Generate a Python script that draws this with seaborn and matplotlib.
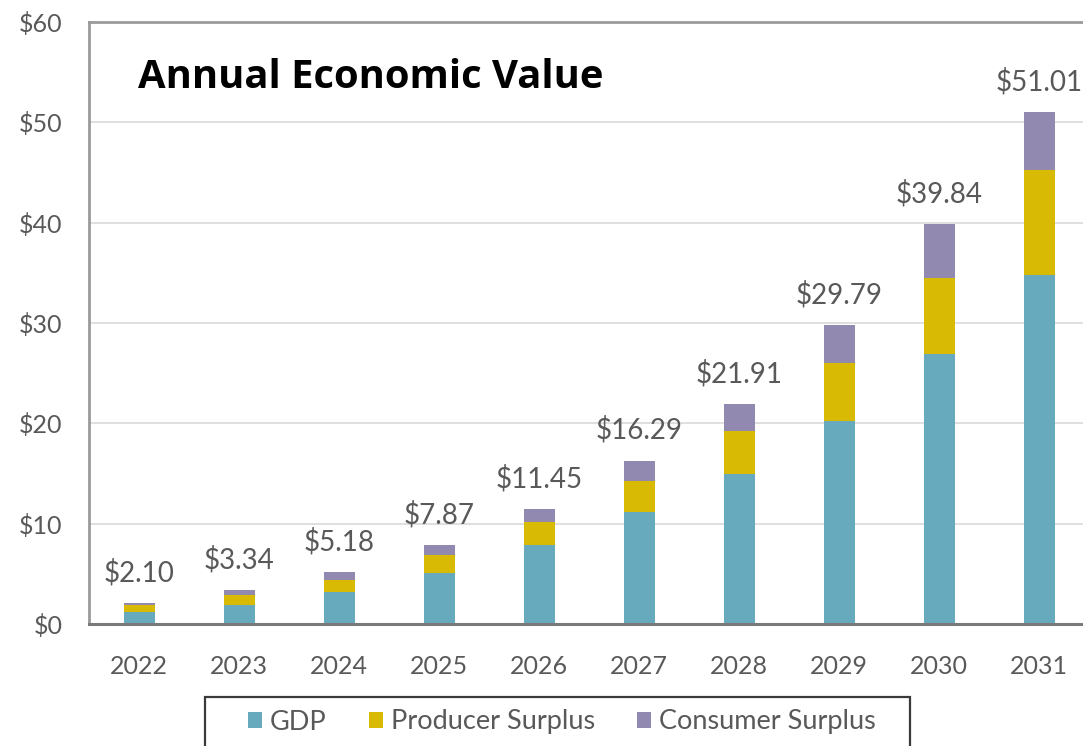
import matplotlib
matplotlib.use("Agg")
import matplotlib.pyplot as plt
from matplotlib.patches import Patch, Rectangle
import seaborn as sns
import pandas as pd
import numpy as np

# ---- data ----
years = ["2022", "2023", "2024", "2025", "2026", "2027", "2028", "2029", "2030", "2031"]
gdp = [1.15, 1.90, 3.15, 5.10, 7.85, 11.15, 15.00, 20.20, 26.90, 34.80]
producer = [0.75, 1.00, 1.25, 1.80, 2.30, 3.15, 4.20, 5.80, 7.60, 10.40]
consumer = [0.20, 0.44, 0.78, 0.97, 1.30, 1.99, 2.71, 3.79, 5.34, 5.81]
total_labels = ["$2.10", "$3.34", "$5.18", "$7.87", "$11.45", "$16.29",
                "$21.91", "$29.79", "$39.84", "$51.01"]
series_names = ["GDP", "Producer Surplus", "Consumer Surplus"]
y_ticks = [0, 10, 20, 30, 40, 50, 60]
y_tick_labels = ["$0", "$10", "$20", "$30", "$40", "$50", "$60"]
title = "Annual Economic Value"

colors = {"GDP": "#67AABE", "Producer Surplus": "#D8B904", "Consumer Surplus": "#9189B0"}
text_gray = "#595959"

sns.set_theme(style="white")
plt.rcParams['font.family'] = ['Lato', 'DejaVu Sans']

df = pd.DataFrame({"Year": years, "GDP": gdp,
                   "Producer Surplus": producer, "Consumer Surplus": consumer})
df["top_gdp"] = df["GDP"]
df["top_producer"] = df["GDP"] + df["Producer Surplus"]
df["top_total"] = df["top_producer"] + df["Consumer Surplus"]

W, H = 1083, 746
fig = plt.figure(figsize=(W / 100, H / 100), dpi=100)
ax_left, ax_top, ax_bottom = 89, 22, 624
ax_w = 1002
ax = fig.add_axes([ax_left / W, 1 - ax_bottom / H, ax_w / W, (ax_bottom - ax_top) / H])

bar_w = 0.31
for col, name in [("top_total", "Consumer Surplus"),
                  ("top_producer", "Producer Surplus"),
                  ("top_gdp", "GDP")]:
    sns.barplot(data=df, x="Year", y=col, color=colors[name], width=bar_w,
                saturation=1, errorbar=None, linewidth=0, ax=ax)

for i, (tot, lab) in enumerate(zip(df["top_total"], total_labels)):
    ax.annotate(lab, (i, tot), xytext=(0, 12), textcoords="offset points",
                ha="center", va="bottom", fontsize=20, color=text_gray)

ax.set_xlim(-0.5, 9.52)
ax.set_ylim(0, 60)
ax.set_yticks(y_ticks)
ax.set_yticklabels(y_tick_labels)
ax.set_xlabel("")
ax.set_ylabel("")
ax.tick_params(axis="y", length=0, pad=19, labelsize=18, labelcolor=text_gray)
ax.tick_params(axis="x", length=0, pad=22, labelsize=18, labelcolor=text_gray)
ax.yaxis.grid(True, color="#DCDCDC", linewidth=1.3)
ax.set_axisbelow(True)
for s in ["left", "top", "right"]:
    ax.spines[s].set_color("#9A9A9A")
    ax.spines[s].set_linewidth(2)
ax.spines["bottom"].set_color("#7A7A7A")
ax.spines["bottom"].set_linewidth(2.2)

fig.text(138 / W, 1 - 78 / H, title, ha="left", va="center",
         fontsize=28.8, fontweight="bold", color="black",
         family=["Open Sans", "DejaVu Sans"])

# legend frame (extends past the bottom edge)
fig.patches.append(Rectangle((205 / W, -0.05), (910 - 205) / W, 0.05 + (1 - 697 / H),
                             transform=fig.transFigure, fill=False,
                             edgecolor="#3A3A3A", linewidth=1.6))
handles = [Patch(facecolor=colors[n], edgecolor="none", label=n) for n in series_names]
leg = fig.legend(handles=handles, loc="center left",
                 bbox_to_anchor=(248 / W, 1 - 722 / H), ncol=3, frameon=False,
                 fontsize=19.5, handlelength=0.52, handleheight=0.52,
                 handletextpad=0.3, columnspacing=1.55, borderpad=0, borderaxespad=0)
for t in leg.get_texts():
    t.set_color(text_gray)

fig.savefig("out.png", dpi=100)
